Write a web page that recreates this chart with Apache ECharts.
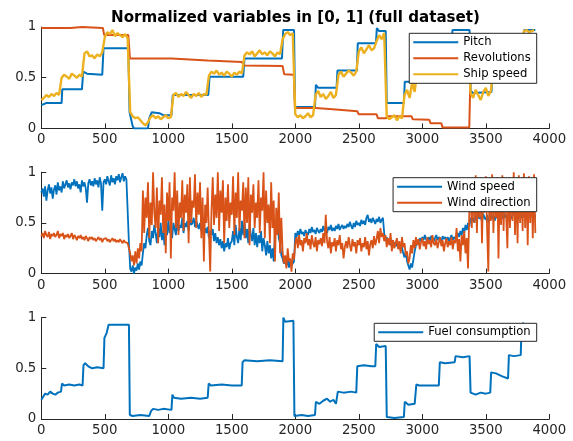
<!DOCTYPE html>
<html>
<head>
<meta charset="utf-8">
<script src="https://cdn.jsdelivr.net/npm/echarts@6/dist/echarts.min.js"></script>
<style>
html,body{margin:0;padding:0;background:#fff;}
#chart{width:573px;height:441px;}
</style>
</head>
<body>
<div id="chart"></div>
<script>
// ---------- DATA ----------
const titleText = 'Normalized variables in [0, 1] (full dataset)';
const xTickValues = [0, 500, 1000, 1500, 2000, 2500, 3000, 3500, 4000];
const yTickLabels = ['0', '0.5', '1'];
const SPEED_STEP = 20; // index spacing of shipSpeed samples
const WIND_STEP = 10;  // index spacing of wind samples

// Top panel: step-like series as [index, value]
const pitch = [[0,0.23],[40,0.25],[160,0.25],[165,0.385],[320,0.385],[330,0.56],[360,0.54],[480,0.53],[490,0.79],[685,0.79],[695,0.16],[720,0.02],[730,0.0],[840,0.0],[850,0.10],[870,0.16],[930,0.15],[960,0.13],[1025,0.13],[1035,0.33],[1315,0.33],[1325,0.51],[1590,0.51],[1600,0.69],[1895,0.69],[1905,0.97],[1990,0.97],[1998,0.21],[2155,0.21],[2162,0.43],[2180,0.40],[2325,0.40],[2332,0.57],[2485,0.57],[2492,0.84],[2635,0.84],[2642,0.99],[2660,0.96],[2712,0.96],[2720,0.25],[2855,0.25],[2862,0.46],[2945,0.46],[2952,0.62],[3135,0.62],[3142,0.82],[3230,0.82],[3238,0.97],[3372,0.97],[3380,0.37],[3400,0.35],[3545,0.36],[3552,0.62],[3690,0.62],[3698,0.77],[3795,0.77],[3802,0.97],[3890,0.97]];
const revolutions = [[0,0.99],[230,0.99],[245,1.0],[320,1.0],[335,0.99],[485,0.99],[495,0.92],[685,0.92],[698,0.69],[1025,0.69],[1035,0.675],[1310,0.67],[1325,0.655],[1580,0.655],[1595,0.62],[1900,0.615],[1912,0.535],[1988,0.53],[1997,0.20],[2160,0.20],[2170,0.19],[2295,0.19],[2305,0.175],[2488,0.17],[2498,0.14],[2640,0.14],[2650,0.10],[2715,0.10],[2725,0.12],[2915,0.12],[2925,0.09],[3055,0.085],[3065,0.05],[3150,0.05],[3160,0.01],[3370,0.01],[3380,0.58],[3775,0.57],[3782,0.45],[3790,0.57],[3890,0.57]];
// Sampled every SPEED_STEP from 0 to 3880
const shipSpeed = [
0.28,0.30,0.33,0.31,0.34,0.32,0.35,0.33,
0.50,0.53,0.51,0.49,0.54,0.52,0.50,0.53,0.51,
0.74,0.76,0.71,0.72,0.69,0.73,0.71,0.75,
0.90,0.95,0.93,0.97,0.91,0.94,0.92,0.90,0.93,0.89,
0.16,0.12,0.10,0.11,0.08,0.05,0.03,0.06,0.11,0.13,0.10,0.12,0.09,0.11,0.13,0.10,0.11,
0.33,0.35,0.31,0.34,0.32,0.36,0.33,0.30,0.34,0.32,0.35,0.31,0.34,0.33,
0.52,0.56,0.54,0.57,0.53,0.55,0.52,0.56,0.54,0.51,0.55,0.53,0.56,0.54,
0.72,0.75,0.73,0.76,0.71,0.74,0.77,0.73,0.75,0.72,0.76,0.74,0.71,0.75,0.73,
0.88,0.93,0.95,0.92,0.94,
0.14,0.11,0.13,0.10,0.12,0.15,0.11,0.13,
0.33,0.37,0.31,0.34,0.29,0.32,0.36,0.30,0.33,
0.53,0.56,0.51,0.54,0.57,0.55,0.52,0.56,
0.76,0.80,0.74,0.78,0.82,0.77,0.79,
0.86,0.92,0.88,0.94,
0.12,0.09,0.11,0.13,0.08,0.12,0.10,
0.33,0.38,0.30,0.45,0.36,
0.58,0.62,0.57,0.60,0.63,0.59,0.61,0.58,0.62,
0.76,0.79,0.75,0.78,0.77,
0.88,0.90,0.86,0.89,0.91,0.87,0.89,
0.35,0.30,0.38,0.33,0.28,0.36,0.40,0.32,0.37,
0.60,0.64,0.58,0.62,0.57,0.61,0.63,
0.74,0.77,0.73,0.76,0.75,
0.96,0.97,0.95,0.96,0.97];

// Middle panel, sampled every WIND_STEP from 0 to 3890 (one row per 100 units)
const windSpeed = [
0.80,0.84,0.76,0.86,0.72,0.82,0.88,0.79,0.85,0.74,
0.83,0.87,0.78,0.90,0.82,0.86,0.80,0.91,0.84,0.88,
0.92,0.85,0.89,0.83,0.90,0.87,0.93,0.86,0.91,0.84,
0.88,0.80,0.92,0.86,0.90,0.84,0.70,0.89,0.93,0.87,
0.91,0.86,0.94,0.88,0.92,0.85,0.95,0.89,0.62,0.90,
0.93,0.88,0.96,0.91,0.87,0.97,0.90,0.94,0.88,0.96,
0.92,0.98,0.90,0.95,0.99,0.91,0.96,0.93,0.62,0.30,
0.05,0.02,0.08,0.00,0.06,0.03,0.10,0.04,0.12,0.08,
0.20,0.30,0.25,0.38,0.45,0.32,0.28,0.42,0.35,0.48,
0.40,0.30,0.45,0.36,0.50,0.33,0.42,0.28,0.46,0.38,
0.52,0.40,0.47,0.35,0.50,0.44,0.38,0.53,0.42,0.48,
0.45,0.55,0.40,0.50,0.46,0.52,0.42,0.54,0.48,0.50,
0.55,0.46,0.52,0.48,0.44,0.50,0.42,0.47,0.38,0.45,
0.40,0.46,0.35,0.42,0.38,0.44,0.32,0.40,0.30,0.36,
0.28,0.34,0.25,0.32,0.22,0.30,0.26,0.35,0.24,0.30,
0.32,0.42,0.28,0.48,0.36,0.30,0.45,0.33,0.52,0.38,
0.50,0.35,0.44,0.30,0.48,0.38,0.32,0.45,0.28,0.40,
0.26,0.38,0.30,0.42,0.22,0.35,0.28,0.18,0.32,0.20,
0.28,0.15,0.25,0.12,0.40,0.45,0.58,0.35,0.30,0.18,
0.15,0.10,0.12,0.08,0.14,0.06,0.12,0.08,0.10,0.12,
0.40,0.36,0.42,0.38,0.44,0.39,0.41,0.37,0.43,0.40,
0.38,0.44,0.40,0.46,0.41,0.43,0.39,0.45,0.42,0.40,
0.44,0.41,0.47,0.42,0.45,0.40,0.46,0.43,0.48,0.42,
0.45,0.42,0.47,0.44,0.49,0.43,0.46,0.48,0.44,0.47,
0.45,0.49,0.46,0.51,0.47,0.44,0.50,0.46,0.52,0.48,
0.50,0.47,0.53,0.49,0.52,0.48,0.55,0.58,0.51,0.54,
0.50,0.55,0.52,0.49,0.54,0.51,0.56,0.50,0.53,0.55,
0.40,0.32,0.36,0.30,0.34,0.28,0.33,0.29,0.31,0.27,
0.30,0.25,0.28,0.23,0.26,0.20,0.16,0.22,0.12,0.08,
0.04,0.10,0.06,0.14,0.22,0.28,0.33,0.30,0.35,0.32,
0.36,0.33,0.38,0.34,0.31,0.36,0.33,0.37,0.35,0.32,
0.35,0.38,0.33,0.36,0.34,0.31,0.37,0.34,0.36,0.33,
0.36,0.32,0.35,0.38,0.33,0.36,0.34,0.37,0.40,0.36,
0.42,0.38,0.45,0.40,0.48,0.43,0.50,0.46,0.55,0.52,
0.55,0.50,0.58,0.52,0.60,0.54,0.57,0.51,0.59,0.55,
0.53,0.58,0.50,0.56,0.60,0.54,0.57,0.52,0.58,0.55,
0.56,0.52,0.59,0.54,0.61,0.55,0.58,0.53,0.60,0.56,
0.54,0.58,0.62,0.55,0.59,0.53,0.57,0.60,0.55,0.58,
0.56,0.60,0.54,0.58,0.62,0.55,0.59,0.57,0.53,0.58];
const windDirection = [
0.37,0.40,0.35,0.42,0.38,0.36,0.41,0.34,0.39,0.37,
0.40,0.36,0.38,0.42,0.35,0.39,0.37,0.40,0.34,0.38,
0.36,0.39,0.35,0.37,0.40,0.34,0.38,0.36,0.33,0.37,
0.35,0.38,0.34,0.36,0.33,0.37,0.35,0.32,0.36,0.34,
0.36,0.33,0.35,0.32,0.34,0.36,0.33,0.35,0.31,0.34,
0.33,0.35,0.32,0.34,0.31,0.33,0.35,0.32,0.34,0.31,
0.33,0.31,0.34,0.32,0.30,0.33,0.31,0.32,0.30,0.31,
0.20,0.12,0.18,0.08,0.22,0.10,0.25,0.15,0.30,0.22,
0.82,0.40,0.75,0.55,0.90,0.35,0.70,0.48,1.00,0.60,
0.45,0.85,0.30,0.72,0.58,0.95,0.40,0.68,0.20,0.80,
0.52,0.90,0.15,0.75,0.62,1.00,0.45,0.82,0.38,0.70,
0.55,0.92,0.42,0.78,0.60,0.88,0.30,0.95,0.50,0.72,
0.65,0.98,0.45,0.80,0.58,0.90,0.35,0.75,0.12,0.68,
0.50,0.85,0.40,0.02,0.62,0.95,0.48,0.78,0.55,1.00,
0.42,0.82,0.60,0.92,0.30,0.75,0.52,0.88,0.45,0.70,
0.58,0.96,0.38,0.80,0.55,1.00,0.42,0.72,0.62,0.90,
0.35,0.85,0.50,0.95,0.28,0.78,0.60,0.88,0.45,0.70,
0.55,0.92,0.40,0.75,0.62,1.00,0.35,0.82,0.50,0.68,
0.30,0.90,0.45,0.72,0.12,0.65,0.38,0.80,0.20,0.55,
0.22,0.10,0.18,0.05,0.25,0.12,0.15,0.02,0.20,0.14,
0.30,0.36,0.25,0.38,0.28,0.33,0.22,0.35,0.30,0.40,
0.28,0.34,0.24,0.38,0.30,0.26,0.36,0.22,0.33,0.29,
0.35,0.27,0.40,0.30,0.58,0.32,0.25,0.36,0.20,0.31,
0.27,0.35,0.22,0.33,0.28,0.38,0.24,0.30,0.15,0.26,
0.32,0.25,0.36,0.28,0.22,0.34,0.27,0.31,0.20,0.33,
0.28,0.35,0.22,0.30,0.26,0.36,0.24,0.32,0.18,0.29,
0.33,0.25,0.37,0.28,0.34,0.42,0.30,0.45,0.36,0.40,
0.32,0.38,0.26,0.35,0.28,0.40,0.22,0.33,0.25,0.30,
0.35,0.24,0.32,0.20,0.36,0.26,0.30,0.18,0.22,0.10,
0.15,0.28,0.20,0.33,0.25,0.36,0.28,0.34,0.24,0.31,
0.35,0.27,0.32,0.24,0.36,0.29,0.33,0.26,0.38,0.30,
0.28,0.34,0.25,0.31,0.36,0.27,0.33,0.22,0.30,0.35,
0.26,0.32,0.28,0.36,0.24,0.33,0.30,0.45,0.22,0.34,
0.12,0.38,0.28,0.42,0.20,0.35,0.05,0.60,0.85,0.45,
0.92,0.50,0.97,0.40,0.88,0.55,0.95,0.30,0.90,0.60,
0.96,0.45,0.02,0.92,0.52,0.98,0.40,0.88,0.55,0.95,
0.15,0.90,0.48,0.97,0.42,0.93,0.58,0.25,0.95,0.45,
0.88,0.52,1.00,0.38,0.94,0.30,0.97,0.50,0.90,0.42,
0.99,0.45,0.92,0.28,0.96,0.50,0.94,0.35,0.98,0.40];

// Bottom panel: step-like series as [index, value]
const fuelConsumption = [[0,0.19],[15,0.22],[30,0.25],[50,0.24],[70,0.27],[90,0.25],[110,0.24],[130,0.26],[155,0.27],[163,0.35],[180,0.33],[220,0.34],[260,0.33],[300,0.34],[325,0.33],[332,0.53],[345,0.55],[370,0.52],[400,0.50],[440,0.51],[490,0.50],[497,0.80],[515,0.85],[530,0.93],[600,0.93],[690,0.93],[697,0.04],[720,0.03],[780,0.04],[850,0.03],[865,0.08],[880,0.10],[920,0.09],[960,0.10],[1025,0.09],[1032,0.24],[1045,0.21],[1100,0.20],[1180,0.21],[1250,0.20],[1310,0.21],[1318,0.35],[1335,0.33],[1420,0.34],[1500,0.33],[1578,0.33],[1585,0.56],[1600,0.58],[1700,0.57],[1800,0.58],[1900,0.57],[1906,1.0],[1920,0.96],[1985,0.97],[1993,0.03],[2050,0.04],[2100,0.03],[2155,0.04],[2162,0.17],[2190,0.15],[2220,0.18],[2250,0.20],[2275,0.17],[2300,0.19],[2320,0.15],[2335,0.27],[2380,0.26],[2440,0.27],[2480,0.26],[2488,0.52],[2540,0.53],[2600,0.52],[2630,0.52],[2637,0.74],[2660,0.71],[2712,0.72],[2720,0.02],[2780,0.01],[2855,0.02],[2862,0.17],[2890,0.14],[2940,0.15],[2953,0.34],[2975,0.33],[3050,0.33],[3130,0.33],[3138,0.56],[3180,0.55],[3255,0.56],[3262,0.62],[3320,0.61],[3372,0.62],[3380,0.26],[3420,0.24],[3460,0.26],[3500,0.25],[3535,0.26],[3542,0.46],[3580,0.45],[3630,0.42],[3675,0.40],[3682,0.63],[3720,0.62],[3775,0.63],[3782,0.93],[3800,0.95]];

// ---------- CHART ----------
const sampled = (arr, step) => arr.map((v, i) => [i * step, v]);
const FONT = 'DejaVu Sans';
const AX = '#262626';
const C1 = '#0072BD', C2 = '#D95319', C3 = '#EDB120';

const grids = [
  {left: 41.3, width: 508, top: 27.0, height: 101.4},
  {left: 41.3, width: 508, top: 172.2, height: 101.4},
  {left: 41.3, width: 508, top: 317.6, height: 101.4}
];
function xAx(i){
  return {type:'value', gridIndex:i, min:xTickValues[0], max:xTickValues[xTickValues.length-1], interval:xTickValues[1]-xTickValues[0],
    axisLine:{show:true, onZero:false, lineStyle:{color:AX, width:1}},
    axisTick:{show:true, inside:true, length:5, lineStyle:{color:AX, width:1}},
    splitLine:{show:false},
    axisLabel:{color:AX, fontFamily:FONT, fontSize:13.3, margin:5, formatter: v => String(v)}};
}
function yAx(i){
  return {type:'value', gridIndex:i, min:0, max:1, interval:0.5,
    axisLine:{show:true, onZero:false, lineStyle:{color:AX, width:1}},
    axisTick:{show:true, inside:true, length:5, lineStyle:{color:AX, width:1}},
    splitLine:{show:false},
    axisLabel:{color:AX, fontFamily:FONT, fontSize:13.3, margin:5,
      formatter: v => yTickLabels[Math.round(v*2)]}};
}
function leg(names, top){
  return {orient:'vertical', right:36.3, top:top, data:names, selectedMode:false,
    icon:'rect', itemWidth:45, itemHeight:2, itemGap:2,
    backgroundColor:'#fff', borderColor:AX, borderWidth:1, borderRadius:0,
    padding:[2,6,2,4],
    textStyle:{fontFamily:FONT, fontSize:11.6, color:'#000', lineHeight:14}};
}
function ser(name, data, color, xi, w){
  return {name:name, type:'line', data:data, xAxisIndex:xi, yAxisIndex:xi,
    showSymbol:false, symbol:'none', color:color, lineStyle:{color:color, width:w},
    animation:false, silent:true};
}

const option = {
  animation:false,
  backgroundColor:'#fff',
  title:{text:titleText, left:290.5, top:6, textAlign:'center',
    textStyle:{fontFamily:FONT, fontSize:15.1, fontWeight:'bold', color:'#000'}},
  grid: grids,
  xAxis:[xAx(0), xAx(1), xAx(2)],
  yAxis:[yAx(0), yAx(1), yAx(2)],
  legend:[
    leg(['Pitch','Revolutions','Ship speed'], 33.3),
    leg(['Wind speed','Wind direction'], 177.7),
    leg(['Fuel consumption'], 323.3)
  ],
  series:[
    ser('Pitch', pitch, C1, 0, 2),
    ser('Revolutions', revolutions, C2, 0, 2),
    ser('Ship speed', sampled(shipSpeed, SPEED_STEP), C3, 0, 2.4),
    ser('Wind speed', sampled(windSpeed, WIND_STEP), C1, 1, 1.8),
    ser('Wind direction', sampled(windDirection, WIND_STEP), C2, 1, 1.8),
    ser('Fuel consumption', fuelConsumption, C1, 2, 2)
  ]
};
const chart = echarts.init(document.getElementById('chart'), null, {renderer:'canvas'});
chart.setOption(option);
</script>
</body>
</html>
